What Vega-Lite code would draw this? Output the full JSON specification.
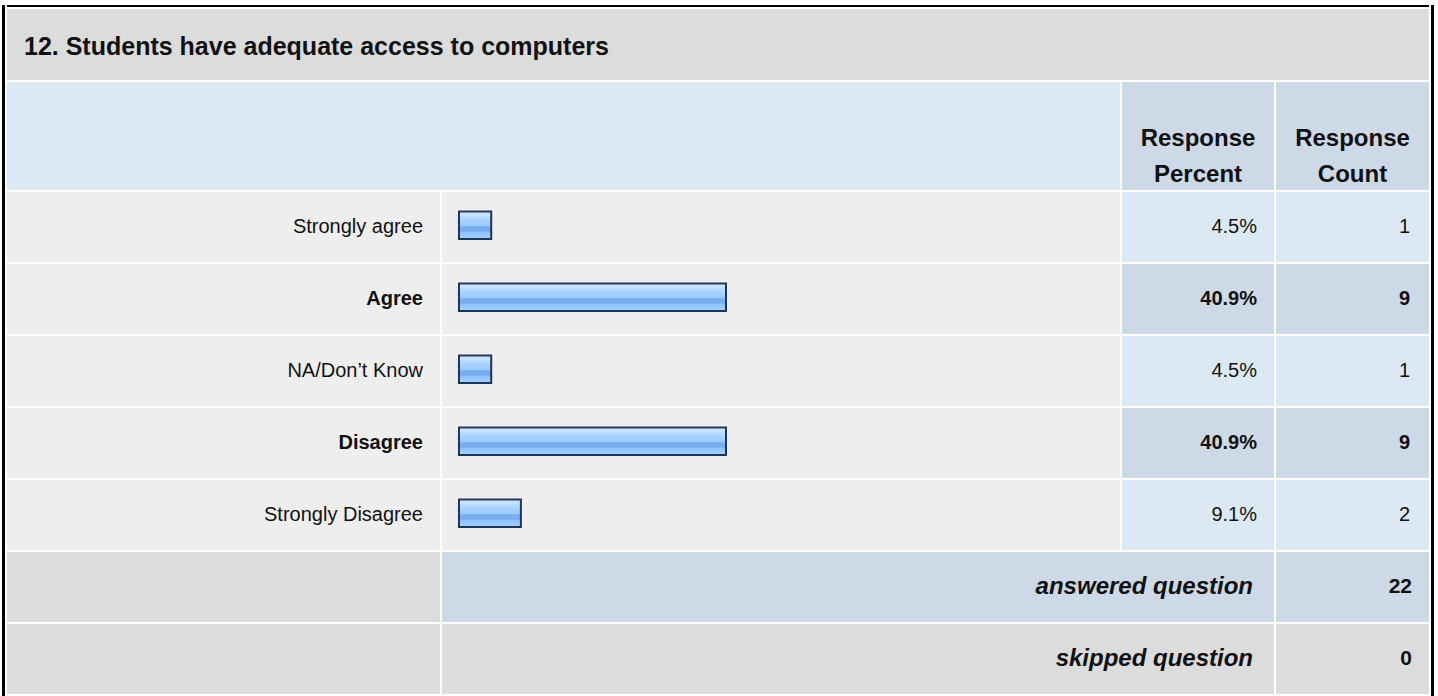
{
  "$schema": "https://vega.github.io/schema/vega-lite/v6.json",
  "background": "white",
  "padding": {"left": 2, "top": 5, "right": 0, "bottom": 0},
  "config": {
    "view": {"stroke": null},
    "text": {"font": "Liberation Sans", "color": "#111"},
    "concat": {"spacing": 2}
  },
  "datasets": {
    "answers": [
      {"answer": "Strongly agree", "percent": 0.045, "count": 1},
      {"answer": "Agree", "percent": 0.409, "count": 9},
      {"answer": "NA/Don’t Know", "percent": 0.045, "count": 1},
      {"answer": "Disagree", "percent": 0.409, "count": 9},
      {"answer": "Strongly Disagree", "percent": 0.091, "count": 2}
    ],
    "summary": [
      {"label": "answered question", "count": 22},
      {"label": "skipped question", "count": 0}
    ]
  },
  "spacing": 2,
  "hconcat": [
    {"width": 3, "height": 691, "data": {"values": [{}]}, "mark": {"type": "rect", "fill": "#000", "stroke": null}},
    {
      "spacing": 2,
      "vconcat": [
        {"width": 1422, "height": 2, "data": {"values": [{}]}, "mark": {"type": "rect", "fill": "#000", "stroke": null}},
        {
          "width": 1422, "height": 71, "view": {"fill": "#dcdcdc"},
          "data": {"values": [{"question": "12. Students have adequate access to computers"}]},
          "mark": {"type": "text", "align": "left", "baseline": "middle", "dx": 17, "dy": 2, "fontSize": 25, "fontWeight": "bold"},
          "encoding": {"x": {"value": 0}, "text": {"field": "question"}}
        },
        {
          "spacing": 2,
          "hconcat": [
            {"width": 1113, "height": 108, "data": {"values": [{}]}, "mark": {"type": "rect", "fill": "#dde8f5", "stroke": null}},
            {
              "width": 152, "height": 108, "view": {"fill": "#cdd9e6"},
              "data": {"values": [{}]},
              "mark": {"type": "text", "text": ["Response", "Percent"], "align": "center", "baseline": "middle", "lineHeight": 36, "dy": 3, "fontSize": 24, "fontWeight": "bold"}
            },
            {
              "width": 153, "height": 108, "view": {"fill": "#cdd9e6"},
              "data": {"values": [{}]},
              "mark": {"type": "text", "text": ["Response", "Count"], "align": "center", "baseline": "middle", "lineHeight": 36, "dy": 3, "fontSize": 24, "fontWeight": "bold"}
            }
          ]
        },
        {
          "spacing": 2,
          "hconcat": [
            {
              "width": 433, "height": 358, "view": {"fill": "white"},
              "data": {"name": "answers"},
              "transform": [{"joinaggregate": [{"op": "max", "field": "count", "as": "maxCount"}]}],
              "encoding": {"y": {"field": "answer", "type": "nominal", "sort": null, "axis": null, "scale": {"paddingInner": 0.0278, "paddingOuter": 0}}},
              "layer": [
                {"mark": {"type": "rect", "fill": "#eeeeee", "stroke": null}},
                {
                  "transform": [{"filter": "datum.count < datum.maxCount"}],
                  "mark": {"type": "text", "align": "right", "baseline": "middle", "dx": -17, "fontSize": 20},
                  "encoding": {"x": {"value": "width"}, "text": {"field": "answer"}}
                },
                {
                  "transform": [{"filter": "datum.count == datum.maxCount"}],
                  "mark": {"type": "text", "align": "right", "baseline": "middle", "dx": -17, "fontSize": 20, "fontWeight": "bold"},
                  "encoding": {"x": {"value": "width"}, "text": {"field": "answer"}}
                }
              ]
            },
            {
              "width": 678, "height": 358, "view": {"fill": "white"},
              "data": {"name": "answers"},
              "encoding": {"y": {"field": "answer", "type": "nominal", "sort": null, "axis": null, "scale": {"paddingInner": 0.0278, "paddingOuter": 0}}},
              "layer": [
                {"mark": {"type": "rect", "fill": "#eeeeee", "stroke": null}},
                {
                  "mark": {
                    "type": "bar", "height": {"band": 0.393}, "yOffset": -1.8,
                    "stroke": "#1f3556", "strokeWidth": 2,
                    "fill": {
                      "gradient": "linear", "x1": 0, "y1": 0, "x2": 0, "y2": 1,
                      "stops": [
                        {"offset": 0, "color": "#d6ecff"},
                        {"offset": 0.15, "color": "#c0e0ff"},
                        {"offset": 0.3, "color": "#a8d3ff"},
                        {"offset": 0.52, "color": "#99c9ff"},
                        {"offset": 0.56, "color": "#78acf0"},
                        {"offset": 0.72, "color": "#78acf0"},
                        {"offset": 0.76, "color": "#8fc2ff"},
                        {"offset": 1, "color": "#a6d1ff"}
                      ]
                    }
                  },
                  "encoding": {
                    "x": {"field": "percent", "type": "quantitative", "axis": null, "scale": {"domain": [-0.0313, 1.0198], "nice": false, "zero": false}},
                    "x2": {"datum": -0.005}
                  }
                }
              ]
            },
            {
              "width": 152, "height": 358, "view": {"fill": "white"},
              "data": {"name": "answers"},
              "transform": [
                {"joinaggregate": [{"op": "max", "field": "count", "as": "maxCount"}]},
                {"calculate": "datum.count == datum.maxCount ? 'top' : 'other'", "as": "rank"}
              ],
              "encoding": {"y": {"field": "answer", "type": "nominal", "sort": null, "axis": null, "scale": {"paddingInner": 0.0278, "paddingOuter": 0}}},
              "layer": [
                {
                  "mark": {"type": "rect", "stroke": null},
                  "encoding": {"fill": {"field": "rank", "type": "nominal", "legend": null, "scale": {"domain": ["other", "top", "answered question", "skipped question"], "range": ["#dde8f5", "#cdd9e6", "#cdd9e6", "#dcdcdc"]}}}
                },
                {
                  "transform": [{"filter": "datum.rank == 'other'"}],
                  "mark": {"type": "text", "align": "right", "baseline": "middle", "dx": -17, "fontSize": 20},
                  "encoding": {"x": {"value": "width"}, "text": {"field": "percent", "type": "quantitative", "format": ".1%"}}
                },
                {
                  "transform": [{"filter": "datum.rank == 'top'"}],
                  "mark": {"type": "text", "align": "right", "baseline": "middle", "dx": -17, "fontSize": 20, "fontWeight": "bold"},
                  "encoding": {"x": {"value": "width"}, "text": {"field": "percent", "type": "quantitative", "format": ".1%"}}
                }
              ]
            },
            {
              "width": 153, "height": 358, "view": {"fill": "white"},
              "data": {"name": "answers"},
              "transform": [
                {"joinaggregate": [{"op": "max", "field": "count", "as": "maxCount"}]},
                {"calculate": "datum.count == datum.maxCount ? 'top' : 'other'", "as": "rank"}
              ],
              "encoding": {"y": {"field": "answer", "type": "nominal", "sort": null, "axis": null, "scale": {"paddingInner": 0.0278, "paddingOuter": 0}}},
              "layer": [
                {
                  "mark": {"type": "rect", "stroke": null},
                  "encoding": {"fill": {"field": "rank", "type": "nominal", "legend": null, "scale": {"domain": ["other", "top", "answered question", "skipped question"], "range": ["#dde8f5", "#cdd9e6", "#cdd9e6", "#dcdcdc"]}}}
                },
                {
                  "transform": [{"filter": "datum.rank == 'other'"}],
                  "mark": {"type": "text", "align": "right", "baseline": "middle", "dx": -19, "fontSize": 20},
                  "encoding": {"x": {"value": "width"}, "text": {"field": "count", "type": "quantitative"}}
                },
                {
                  "transform": [{"filter": "datum.rank == 'top'"}],
                  "mark": {"type": "text", "align": "right", "baseline": "middle", "dx": -19, "fontSize": 20, "fontWeight": "bold"},
                  "encoding": {"x": {"value": "width"}, "text": {"field": "count", "type": "quantitative"}}
                }
              ]
            }
          ]
        },
        {
          "spacing": 2,
          "hconcat": [
            {
              "width": 433, "height": 142, "view": {"fill": "white"},
              "data": {"name": "summary"},
              "mark": {"type": "rect", "fill": "#dcdcdc", "stroke": null},
              "encoding": {"y": {"field": "label", "type": "nominal", "sort": null, "axis": null, "scale": {"paddingInner": 0.0278, "paddingOuter": 0}}}
            },
            {
              "width": 832, "height": 142, "view": {"fill": "white"},
              "data": {"name": "summary"},
              "encoding": {"y": {"field": "label", "type": "nominal", "sort": null, "axis": null, "scale": {"paddingInner": 0.0278, "paddingOuter": 0}}},
              "layer": [
                {
                  "mark": {"type": "rect", "stroke": null},
                  "encoding": {"fill": {"field": "label", "type": "nominal", "legend": null, "scale": {"domain": ["other", "top", "answered question", "skipped question"], "range": ["#dde8f5", "#cdd9e6", "#cdd9e6", "#dcdcdc"]}}}
                },
                {
                  "mark": {"type": "text", "align": "right", "baseline": "middle", "dx": -21, "fontSize": 24, "fontWeight": "bold", "fontStyle": "italic"},
                  "encoding": {"x": {"value": "width"}, "text": {"field": "label"}}
                }
              ]
            },
            {
              "width": 153, "height": 142, "view": {"fill": "white"},
              "data": {"name": "summary"},
              "encoding": {"y": {"field": "label", "type": "nominal", "sort": null, "axis": null, "scale": {"paddingInner": 0.0278, "paddingOuter": 0}}},
              "layer": [
                {
                  "mark": {"type": "rect", "stroke": null},
                  "encoding": {"fill": {"field": "label", "type": "nominal", "legend": null, "scale": {"domain": ["other", "top", "answered question", "skipped question"], "range": ["#dde8f5", "#cdd9e6", "#cdd9e6", "#dcdcdc"]}}}
                },
                {
                  "mark": {"type": "text", "align": "right", "baseline": "middle", "dx": -17, "fontSize": 21, "fontWeight": "bold"},
                  "encoding": {"x": {"value": "width"}, "text": {"field": "count", "type": "quantitative"}}
                }
              ]
            }
          ]
        }
      ]
    },
    {"width": 3, "height": 691, "data": {"values": [{}]}, "mark": {"type": "rect", "fill": "#000", "stroke": null}}
  ]
}
